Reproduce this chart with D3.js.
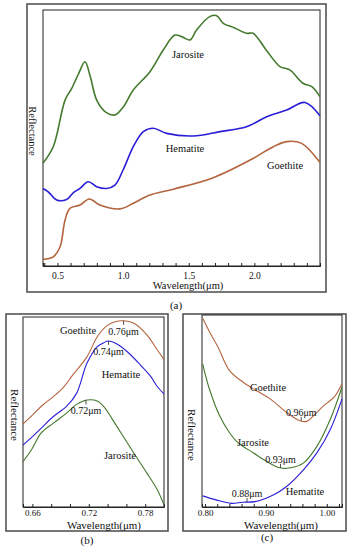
<!DOCTYPE html>
<html>
<head>
<meta charset="utf-8">
<script src="https://cdn.jsdelivr.net/npm/d3@7"></script>
<style>
  html, body { margin: 0; padding: 0; background: #fff; }
  svg { display: block; }
  svg text { font-family: "Liberation Serif", "DejaVu Serif", serif; }
</style>
</head>
<body>
<svg id="chart" width="352" height="550"></svg>
<script>
// reflectance spectra, relative units
// (a) full range
const aJarositeX = [0.39,0.468,0.558,0.609,0.66,0.71,0.75,0.799,0.87,0.938,1.0,1.078,1.205,1.306,1.395,1.45,1.51,1.56,1.66,1.713,1.763,1.85,1.94,1.99,2.09,2.195,2.27,2.37,2.44,2.5];
const aJarositeY = [40.2,46.6,64.8,69.4,75,79.8,74,64.8,60,59,62,68.75,75.9,84.4,90.2,89.5,88.3,92.2,97.4,97.8,94.8,93,90.9,90.9,84.4,77.9,76.6,71.4,70,66.1];
const aHematiteX = [0.39,0.43,0.494,0.57,0.62,0.672,0.735,0.799,0.875,0.938,1.0,1.078,1.154,1.23,1.332,1.535,1.738,1.94,2.094,2.246,2.385,2.5];
const aHematiteY = [30.3,29,25.8,26,28.6,30.3,32.9,31,30.3,31.6,37.5,46.6,52.5,53.8,51.8,50.8,52.5,54.4,58.3,60.9,63.9,58.7];
const aGoethiteX = [0.39,0.468,0.52,0.558,0.595,0.672,0.743,0.824,0.976,1.078,1.205,1.383,1.687,1.99,2.144,2.246,2.36,2.5];
const aGoethiteY = [2.6,3.6,7.5,18,22.5,23.8,26.2,23.8,22.3,24.5,27.7,30,34.5,42,46.6,48.6,47.9,40.4];

// (b) 0.65-0.80 um
const bGoethiteX = [0.65,0.66,0.671,0.682,0.693,0.703,0.718,0.729,0.739,0.748,0.757,0.768,0.782,0.793,0.80];
const bGoethiteY = [43.7,48.4,53.7,58,63,69.5,79,89.6,95.3,97.5,98,96.7,90.5,82.6,77.7];
const bHematiteX = [0.65,0.66,0.671,0.682,0.696,0.707,0.718,0.729,0.736,0.741,0.75,0.761,0.775,0.786,0.793,0.80];
const bHematiteY = [32.6,37,42.3,47.5,52.8,59.8,75.6,84.4,86.5,87.4,85.8,81.7,74.7,68.6,63.3,59.5];
const bJarositeX = [0.65,0.66,0.669,0.682,0.696,0.707,0.718,0.729,0.736,0.75,0.768,0.782,0.793,0.80];
const bJarositeY = [23.8,30.9,38.8,44,49.3,54,56.3,55.8,52.8,42.3,28.3,17.7,8.9,1];

// (c) 0.80-1.02 um
const cGoethiteX = [0.796,0.807,0.821,0.84,0.862,0.884,0.907,0.934,0.956,0.967,0.978,0.995,1.012,1.025];
const cGoethiteY = [98.4,91.4,83.5,71.2,65.1,60.7,56.3,49.3,44.9,44.6,47.5,52.8,57.2,64.2];
const cJarositeX = [0.796,0.807,0.824,0.84,0.854,0.879,0.901,0.923,0.94,0.962,0.984,1.006,1.025];
const cJarositeY = [74.7,61.6,47.5,38.8,33.5,28.3,23.8,20.4,20.4,23,31.7,45.8,62.5];
const cHematiteX = [0.796,0.818,0.843,0.862,0.882,0.912,0.934,0.962,0.984,1.006,1.025];
const cHematiteY = [5.8,3.7,1.9,2.5,2.8,6.3,10.7,19.5,28.3,40.5,56.3];

// tick labels
const aTicks = [0.5, 1.0, 1.5, 2.0];
const bTicks = [0.66, 0.72, 0.78];
const cTicks = [0.80, 0.90, 1.00];

// band positions marked in (b) and (c)
const bPeaks = [0.757, 0.741, 0.717];
const bPeakText = ["0.76\u03bcm", "0.74\u03bcm", "0.72\u03bcm"];
const cTroughs = [0.958, 0.924, 0.869];
const cTroughText = ["0.96\u03bcm", "0.93\u03bcm", "0.88\u03bcm"];

const GREEN = '#447a2e', BLUE = '#2a1fd6', BROWN = '#b4643e';
const FONT = 'Liberation Serif, DejaVu Serif, serif';
const svg = d3.select('#chart');

function zip(xs, ys) { return xs.map((v, i) => [v, ys[i]]); }
function interp(pts, xv) {
  const i = d3.bisector(d => d[0]).left(pts, xv);
  if (i <= 0) return pts[0][1];
  if (i >= pts.length) return pts[pts.length-1][1];
  const a = pts[i-1], b = pts[i], t = (xv - a[0]) / (b[0] - a[0]);
  return a[1] + t * (b[1] - a[1]);
}

function panel(p) {
  const g = svg.append('g');
  g.append('rect').attr('x', p.outer[0]).attr('y', p.outer[1])
    .attr('width', p.outer[2]-p.outer[0]).attr('height', p.outer[3]-p.outer[1])
    .attr('fill','none').attr('stroke','#555').attr('stroke-width',1.6);
  const x = d3.scaleLinear().domain(p.xdom).range([p.plot[0], p.plot[2]]);
  const y = d3.scaleLinear().domain([0, 100]).range([p.plot[3], p.plot[1]]);
  g.append('rect').attr('x', p.plot[0]).attr('y', p.plot[1])
    .attr('width', p.plot[2]-p.plot[0]).attr('height', p.plot[3]-p.plot[1])
    .attr('fill','none').attr('stroke','#222').attr('stroke-width',1);

  const minor = d3.range(Math.ceil(p.xdom[0]/p.step - 1e-6), Math.floor(p.xdom[1]/p.step + 1e-6) + 1).map(k => +(k*p.step).toFixed(3));
  const isMajor = v => p.ticks.some(t => Math.abs(t - v) < 1e-6);
  const ax = g.append('g').attr('transform', `translate(0,${p.plot[3]})`)
    .call(d3.axisBottom(x).tickValues(minor).tickSize(-3).tickPadding(p.pad)
      .tickFormat(v => isMajor(v) ? d3.format(p.fmt)(v) : ''));
  ax.attr('font-family', FONT);
  ax.select('.domain').attr('stroke','#222');
  ax.selectAll('.tick line').attr('stroke','#222');
  ax.selectAll('.tick text').attr('font-family', FONT).attr('font-size', p.tickFont).attr('fill','#111');

  const line = d3.line().x(d => x(d[0])).y(d => y(d[1])).curve(d3.curveCatmullRom.alpha(0.5));
  p.series.forEach(s => {
    g.append('path').attr('d', line(s.pts)).attr('fill','none')
      .attr('stroke', s.color).attr('stroke-width', p.lw);
  });
  p.labels.forEach(l => {
    g.append('text').attr('x', l[1]).attr('y', l[2]).attr('text-anchor','middle')
      .attr('font-family', FONT).attr('font-size', p.labelFont).attr('fill','#111').text(l[0]);
  });
  (p.marks || []).forEach(m => {
    const px = x(m.x), py = y(interp(m.pts, m.x));
    const dir = m.down ? 1 : -1;
    g.append('line').attr('x1', px).attr('x2', px).attr('y1', py).attr('y2', py + dir*4)
      .attr('stroke','#222').attr('stroke-width',0.8);
    g.append('text').attr('x', px).attr('y', m.down ? py + 14 : py - 5)
      .attr('text-anchor','middle').attr('font-family', FONT).attr('font-size', p.labelFont - 0.5)
      .attr('fill','#111').text(m.text);
  });
  g.append('text').attr('x', p.xtitle[0]).attr('y', p.xtitle[1]).attr('text-anchor','middle')
    .attr('font-family', FONT).attr('font-size', p.titleFont).attr('fill','#111').text('Wavelength(\u03bcm)');
  g.append('text').attr('transform', `translate(${p.ytitle[0]},${p.ytitle[1]}) rotate(90)`)
    .attr('text-anchor','middle').attr('font-family', FONT).attr('font-size', p.titleFont)
    .attr('fill','#111').text('Reflectance');
  svg.append('text').attr('x', p.caption[1]).attr('y', p.caption[2]).attr('text-anchor','middle')
    .attr('font-family', FONT).attr('font-size', 11).attr('fill','#111').text(p.caption[0]);
}

const aG = zip(aGoethiteX, aGoethiteY), aH = zip(aHematiteX, aHematiteY), aJ = zip(aJarositeX, aJarositeY);
panel({
  outer: [27, 4, 326, 292], plot: [43, 10, 320, 266], xdom: [0.39, 2.5], step: 0.1,
  ticks: aTicks, fmt: '.1f', pad: 6, tickFont: 9.5, labelFont: 10.5, titleFont: 10.5, lw: 1.6,
  series: [{pts: aJ, color: GREEN}, {pts: aH, color: BLUE}, {pts: aG, color: BROWN}],
  labels: [['Jarosite', 188, 58], ['Hematite', 185, 152], ['Goethite', 285, 169]],
  xtitle: [188, 289], ytitle: [29, 131], caption: ['(a)', 176, 309]
});

const bG = zip(bGoethiteX, bGoethiteY), bH = zip(bHematiteX, bHematiteY), bJ = zip(bJarositeX, bJarositeY);
panel({
  outer: [6, 314, 168, 531], plot: [23, 317, 164, 507], xdom: [0.65, 0.80], step: 0.02,
  ticks: bTicks, fmt: '.2f', pad: 3, tickFont: 9, labelFont: 10.5, titleFont: 11, lw: 1.1,
  series: [{pts: bG, color: BROWN}, {pts: bH, color: BLUE}, {pts: bJ, color: GREEN}],
  labels: [['Goethite', 78, 334], ['Hematite', 121, 378], ['Jarosite', 120, 459]],
  marks: bPeaks.map((v, i) => ({x: v, text: bPeakText[i], pts: [bG, bH, bJ][i], down: true})),
  xtitle: [104, 529], ytitle: [10.5, 415], caption: ['(b)', 87, 544]
});

const cG = zip(cGoethiteX, cGoethiteY), cJ = zip(cJarositeX, cJarositeY), cH = zip(cHematiteX, cHematiteY);
panel({
  outer: [183, 314, 346, 531], plot: [202, 315, 342, 507], xdom: [0.795, 1.025], step: 0.02,
  ticks: cTicks, fmt: '.2f', pad: 3, tickFont: 9, labelFont: 10.5, titleFont: 11, lw: 1.1,
  series: [{pts: cG, color: BROWN}, {pts: cJ, color: GREEN}, {pts: cH, color: BLUE}],
  labels: [['Goethite', 268, 391], ['Jarosite', 253, 446], ['Hematite', 305, 495]],
  marks: cTroughs.map((v, i) => ({x: v, text: cTroughText[i], pts: [cG, cJ, cH][i], down: false})),
  xtitle: [281, 529], ytitle: [188, 435], caption: ['(c)', 267, 541]
});
</script>
</body>
</html>
